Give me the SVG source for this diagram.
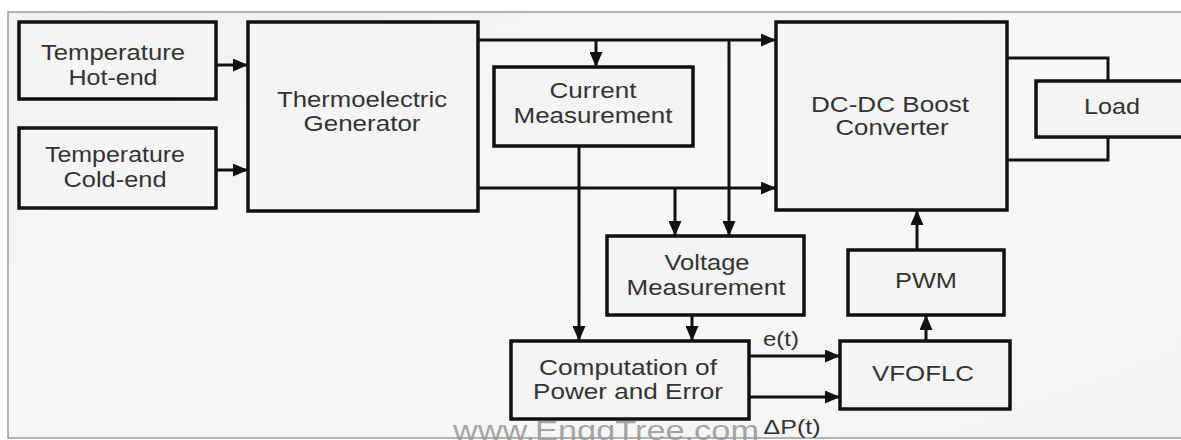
<svg xmlns="http://www.w3.org/2000/svg" width="1181" height="440" viewBox="0 0 1181 440">
<defs>
<linearGradient id="bg" x1="0" y1="0" x2="1" y2="1">
<stop offset="0" stop-color="#f1f1f1"/>
<stop offset="0.5" stop-color="#f8f8f8"/>
<stop offset="1" stop-color="#f3f3f3"/>
</linearGradient>
<marker id="ah" markerUnits="userSpaceOnUse" markerWidth="15" markerHeight="13" refX="15" refY="6.5" orient="auto">
<path d="M0,0 L15,6.5 L0,13 z" fill="#111"/>
</marker>
<style>
.box{fill:#f4f4f4;stroke:#111;stroke-width:3.5}
.ln{fill:none;stroke:#111;stroke-width:3}
.arr{marker-end:url(#ah)}
text{font-family:"Liberation Sans",Arial,sans-serif;font-size:22px;fill:#333;text-anchor:middle}
.sm{font-size:20px}
.wm{font-size:28px;fill:#9a9a9a;fill-opacity:0.9}
</style>
</defs>
<rect x="0" y="0" width="1181" height="440" fill="#ffffff"/>
<rect x="8" y="12" width="1190" height="426" fill="url(#bg)" stroke="#9a9a9a" stroke-width="1.5"/>

<g id="connectors">
<path class="ln arr" d="M216,65 H248"/>
<path class="ln arr" d="M216,170 H248"/>
<path class="ln arr" d="M478,40 H776"/>
<path class="ln arr" d="M596,40 V67"/>
<path class="ln arr" d="M729,40 V236"/>
<path class="ln arr" d="M478,188 H776"/>
<path class="ln arr" d="M675,188 V236"/>
<path class="ln arr" d="M579,146 V341"/>
<path class="ln arr" d="M692,315 V341"/>
<path class="ln arr" d="M749,356 H840"/>
<path class="ln arr" d="M749,397 H840"/>
<path class="ln arr" d="M926,341 V315"/>
<path class="ln arr" d="M917,250 V210"/>
<path class="ln" d="M1007,58 H1108 V81"/>
<path class="ln" d="M1007,160 H1108 V137"/>
</g>

<g id="hot">
<rect class="box" x="19" y="22" width="197" height="77"/>
<text x="113" y="60" textLength="144" lengthAdjust="spacingAndGlyphs">Temperature</text>
<text x="113" y="85" textLength="89" lengthAdjust="spacingAndGlyphs">Hot-end</text>
</g>
<g id="cold">
<rect class="box" x="19" y="128" width="197" height="80"/>
<text x="115" y="162" textLength="140" lengthAdjust="spacingAndGlyphs">Temperature</text>
<text x="115" y="187" textLength="103" lengthAdjust="spacingAndGlyphs">Cold-end</text>
</g>
<g id="teg">
<rect class="box" x="248" y="22" width="230" height="189"/>
<text x="362" y="107" textLength="170" lengthAdjust="spacingAndGlyphs">Thermoelectric</text>
<text x="362" y="131" textLength="117" lengthAdjust="spacingAndGlyphs">Generator</text>
</g>
<g id="current">
<rect class="box" x="494" y="67" width="199" height="79"/>
<text x="593" y="98" textLength="87" lengthAdjust="spacingAndGlyphs">Current</text>
<text x="593" y="123" textLength="159" lengthAdjust="spacingAndGlyphs">Measurement</text>
</g>
<g id="dcdc">
<rect class="box" x="776" y="22" width="231" height="188"/>
<text x="890" y="112" textLength="158" lengthAdjust="spacingAndGlyphs">DC-DC Boost</text>
<text x="892" y="135" textLength="113" lengthAdjust="spacingAndGlyphs">Converter</text>
</g>
<g id="load">
<rect class="box" x="1036" y="81" width="170" height="56"/>
<text x="1112" y="114" textLength="56" lengthAdjust="spacingAndGlyphs">Load</text>
</g>
<g id="voltage">
<rect class="box" x="607" y="236" width="197" height="79"/>
<text x="707" y="270" textLength="85" lengthAdjust="spacingAndGlyphs">Voltage</text>
<text x="706" y="295" textLength="159" lengthAdjust="spacingAndGlyphs">Measurement</text>
</g>
<g id="computation">
<rect class="box" x="511" y="341" width="238" height="78"/>
<text x="628" y="375" textLength="178" lengthAdjust="spacingAndGlyphs">Computation of</text>
<text x="628" y="399" textLength="190" lengthAdjust="spacingAndGlyphs">Power and Error</text>
</g>
<g id="pwm">
<rect class="box" x="848" y="250" width="156" height="65"/>
<text x="926" y="288" textLength="62" lengthAdjust="spacingAndGlyphs">PWM</text>
</g>
<g id="vfoflc">
<rect class="box" x="840" y="341" width="170" height="68"/>
<text x="923" y="381" textLength="102" lengthAdjust="spacingAndGlyphs">VFOFLC</text>
</g>

<g id="labels">
<text class="sm" x="781" y="346" textLength="36" lengthAdjust="spacingAndGlyphs">e(t)</text>
<text class="sm" x="792" y="434" textLength="57" lengthAdjust="spacingAndGlyphs">ΔP(t)</text>
</g>
<text class="wm" x="606" y="440" textLength="306" lengthAdjust="spacingAndGlyphs">www.EnggTree.com</text>
</svg>
